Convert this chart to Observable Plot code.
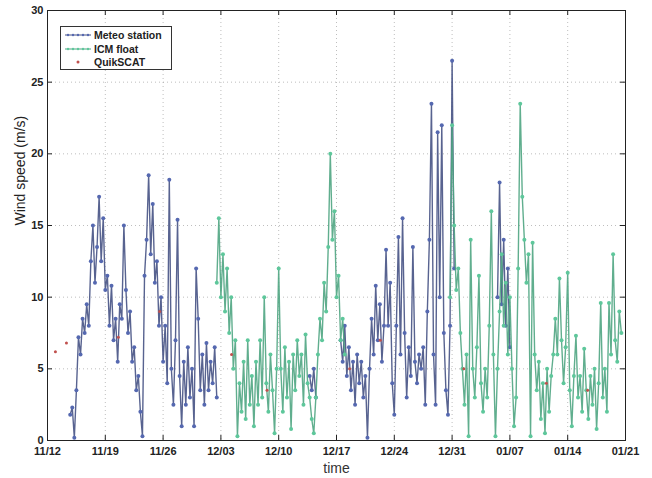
<!DOCTYPE html>
<html><head><meta charset="utf-8">
<script src="https://cdn.jsdelivr.net/npm/d3@7"></script>
<script src="https://cdn.jsdelivr.net/npm/@observablehq/plot@0.6"></script>
<style>
body{margin:0;background:#fff;font-family:"Liberation Sans",Arial,Helvetica,sans-serif;}
#wrap{position:relative;width:652px;height:478px;}
#legend{position:absolute;left:60px;top:26px;width:110px;height:42px;border:1px solid #333;background:#fff;}
#legend .row{position:absolute;left:0;height:14px;width:110px;}
#legend svg{position:absolute;left:3px;top:0;}
#legend span{position:absolute;left:33px;top:0;font-size:10.5px;line-height:14px;font-weight:bold;color:#222;white-space:nowrap;}
</style></head>
<body><div id="wrap"></div>
<script>
// ---- data (wind speed, m/s), 6-hourly samples ----
const stepHours = 6;
const meteo1Start = "2008-11-14T18:00Z";
const meteo1 = [1.8,2.3,0.2,3.5,7.2,6.0,8.5,7.5,9.5,8.0,12.5,15.0,11.0,13.5,17.0,12.5,15.5,10.5,11.5,8.0,10.8,7.0,8.5,5.5,9.5,8.5,15.0,10.5,7.5,9.0,5.5,6.5,3.5,4.5,2.0,0.3,11.5,14.0,18.5,13.0,16.5,11.0,12.5,8.0,10.0,5.5,8.0,4.0,18.2,5.0,2.5,7.0,15.4,4.5,1.0,5.5,2.5,6.5,3.0,5.0,1.0,12.0,8.5,3.5,6.0,2.5,6.8,3.5,5.5,4.0,6.5,3.0];
const meteo2Start = "2008-12-13T18:00Z";
const meteo2 = [4.5,3.5,5.0,3.0];
const meteo3Start = "2008-12-17T12:00Z";
const meteo3 = [7.0,5.5,8.0,4.5,6.5,3.5,5.5,2.5,6.0,4.0,5.5,3.0,4.5,0.2,5.0,8.5,6.0,10.8,7.0,9.5,5.5,8.0,13.3,8.0,11.0,4.0,1.8,8.0,14.2,6.0,15.5,7.5,3.0,6.5,4.5,13.5,5.5,4.0,6.0,5.0,6.5,2.5,9.0,14.0,23.5,6.0,2.5,21.5,10.0,22.0,7.5,3.5,1.8,8.0,26.5,12.0];
const meteo4Start = "2009-01-05T12:00Z";
const meteo4 = [10.0,18.0,9.5,14.0,8.0,12.0,6.5];
const icm1Start = "2008-12-02T12:00Z";
const icm1 = [11.0,15.5,10.0,13.0,9.0,12.0,7.5,10.0,5.0,7.0,0.3,4.0,2.0,5.5,1.5,7.0,2.5,4.5,1.0,5.5,2.5,7.0,3.0,10.0,4.0,2.0,6.0,3.5,0.5,5.0,12.0,5.0,2.0,6.5,3.0,5.5,0.8,6.0,3.5,7.0,4.5,6.0,2.5,7.4,4.0,3.0,1.5,0.5,3.0,6.0,8.5,7.0,11.0,9.0,13.5,20.0,14.0,16.0,10.0,11.5,7.0,8.5,6.0];
const icm2Start = "2008-12-30T18:00Z";
const icm2 = [10.0,22.0,15.0,10.5,12.0,7.5,5.0,2.5,6.0,0.3,14.0,5.0,3.0,6.5,11.5,4.0,2.0,5.0,3.0,8.0,16.0,6.0,0.3,5.0,9.0,13.0,8.0,11.0,6.0,10.0,5.0,1.0,3.0,12.0,23.5,17.0,14.0,11.0,13.0,0.3,13.8,6.0,3.5,5.5,1.5,4.0,0.5,5.0,2.0,4.5,6.0,8.5,6.0,11.3,7.0,4.0,6.5,11.7,3.5,1.0,4.5,7.3,3.0,4.5,2.0,6.4,3.5,1.5,4.5,2.5,5.0,0.8,4.0,9.6,3.0,5.0,2.0,9.6,6.0,13.0,7.0,5.5,9.0,7.5];
const quikTimes = ["2008-11-12T23:00Z","2008-11-14T07:00Z","2008-11-20T14:00Z","2008-11-25T14:00Z","2008-12-04T07:00Z","2008-12-08T14:00Z","2008-12-18T14:00Z","2008-12-22T07:00Z","2009-01-01T10:00Z","2009-01-11T10:00Z","2009-01-16T10:00Z"];
const quikValues = [6.2,6.8,7.2,9.0,6.0,3.5,5.0,7.0,5.0,4.0,3.5];
const seriesNames = ["Meteo station","ICM float","QuikSCAT"];
const xDomain = ["2008-11-12","2009-01-21"];
const xTickLabels = ["11/12","11/19","11/26","12/03","12/10","12/17","12/24","12/31","01/07","01/14","01/21"];
const yTicks = [0,5,10,15,20,25,30];

// ---- styles ----
const blueDot = "#5568b0", blueLine = "#465284";
const greenDot = "#5ec79b", greenLine = "#4fa582";
const redDot = "#c0504d";

const segRows = (start, values, seg) => values.map((v, i) => ({seg, date: new Date(Date.parse(start) + i * stepHours * 3600e3), v}));
const meteoRows = [
  ...segRows(meteo1Start, meteo1, "m1"), ...segRows(meteo2Start, meteo2, "m2"),
  ...segRows(meteo3Start, meteo3, "m3"), ...segRows(meteo4Start, meteo4, "m4")];
const icmRows = [...segRows(icm1Start, icm1, "i1"), ...segRows(icm2Start, icm2, "i2")];
const quikRows = quikTimes.map((t, i) => ({date: new Date(t), v: quikValues[i]}));

const x0 = new Date(xDomain[0] + "T00:00Z"), x1 = new Date(xDomain[1] + "T00:00Z");
const xTicks = xTickLabels.map((s, i) => new Date(+x0 + i * 7 * 864e5));

const W = 652, H = 478, mL = 47, mR = 27, mT = 10, mB = 38;
const pw = W - mL - mR, ph = H - mT - mB;

const chart = Plot.plot({
  width: W, height: H, marginLeft: mL, marginRight: mR, marginTop: mT, marginBottom: mB,
  style: {fontFamily: "'Liberation Sans', Arial, Helvetica, sans-serif", color: "#222", background: "white"},
  x: {type: "utc", domain: [x0, x1]},
  y: {domain: [0, 30]},
  marks: [
    Plot.gridX(xTicks, {stroke: "#888", strokeOpacity: 0.55, strokeDasharray: "1,3"}),
    Plot.gridY(yTicks, {stroke: "#888", strokeOpacity: 0.55, strokeDasharray: "1,3"}),
    Plot.line(meteoRows, {x: "date", y: "v", z: "seg", stroke: blueLine, strokeWidth: 1.4, strokeOpacity: 0.9}),
    Plot.dot(meteoRows, {x: "date", y: "v", r: 2, fill: blueDot, stroke: "none"}),
    Plot.line(icmRows, {x: "date", y: "v", z: "seg", stroke: greenLine, strokeWidth: 1.4, strokeOpacity: 0.9}),
    Plot.dot(icmRows, {x: "date", y: "v", r: 2, fill: greenDot, stroke: "none"}),
    Plot.dot(quikRows, {x: "date", y: "v", r: 1.5, fill: redDot, stroke: "none"}),
    Plot.tickX(xTicks, {x: d => d, insetTop: ph - 5, stroke: "#222"}),
    Plot.tickX(xTicks, {x: d => d, insetBottom: ph - 5, stroke: "#222"}),
    Plot.tickY(yTicks, {y: d => d, insetRight: pw - 5, stroke: "#222"}),
    Plot.tickY(yTicks, {y: d => d, insetLeft: pw - 5, stroke: "#222"}),
    Plot.frame({stroke: "#222"}),
    Plot.axisX(xTicks, {tickSize: 0, tickPadding: 7, tickFormat: (d, i) => xTickLabels[i], fontSize: 11, fontWeight: "bold", label: null}),
    Plot.axisY(yTicks, {tickSize: 0, tickPadding: 4, fontSize: 11, fontWeight: "bold", label: null}),
    Plot.text(["Wind speed (m/s)"], {frameAnchor: "left", rotate: -90, dx: -27, fontSize: 14, fill: "#222"}),
    Plot.text(["time"], {frameAnchor: "bottom", dy: 28, fontSize: 14, fill: "#333", lineAnchor: "middle"})
  ]
});
const wrap = document.getElementById("wrap");
wrap.appendChild(chart);

// legend inside plot (top-left)
const legend = document.createElement("div");
legend.id = "legend";
const items = [[blueLine, blueDot, true], [greenLine, greenDot, true], [null, redDot, false]];
items.forEach(([ls, dc, hasLine], i) => {
  const row = document.createElement("div");
  row.className = "row";
  row.style.top = (1 + i * 13.5) + "px";
  let svg = `<svg width="28" height="14">`;
  if (hasLine) svg += `<line x1="1" x2="27" y1="7" y2="7" stroke="${ls}" stroke-width="1"/>` + [4,9,14,19,24].map(cx => `<circle cx="${cx}" cy="7" r="1.2" fill="${dc}"/>`).join("");
  else svg += `<circle cx="14" cy="7" r="1.5" fill="${dc}"/>`;
  svg += `</svg>`;
  row.innerHTML = svg + `<span>${seriesNames[i]}</span>`;
  legend.appendChild(row);
});
wrap.appendChild(legend);
</script>
</body></html>
